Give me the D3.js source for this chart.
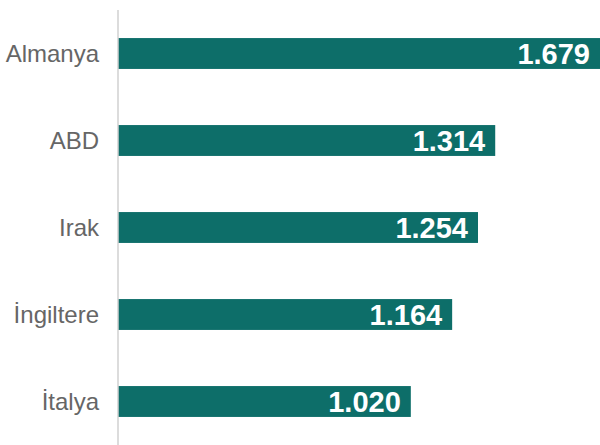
<!DOCTYPE html>
<html>
<head>
<meta charset="utf-8">
<script src="https://cdn.jsdelivr.net/npm/d3@7"></script>
<style>
  body { margin: 0; background: #fff; }
  svg { display: block; font-family: "Liberation Sans", Arial, Helvetica, sans-serif; }
</style>
</head>
<body>
<div id="chart"></div>
<script>
const countries = ['Almanya', 'ABD', 'Irak', 'İngiltere', 'İtalya'];
const values = [1679, 1314, 1254, 1164, 1020];

const width = 600, height = 445;
const margin = { top: 10, right: 0, bottom: 0, left: 118 };

const svg = d3.select('#chart')
    .append('svg')
    .attr('width', width)
    .attr('height', height);

const x = d3.scaleLinear()
    .domain([0, d3.max(values)])
    .range([margin.left, width - margin.right]);

// step ~87px, bar ~31px
const y = d3.scaleBand()
    .domain(countries)
    .range([margin.top, height - margin.bottom])
    .paddingInner(0.645)
    .paddingOuter(0.3225);

const data = countries.map((c, i) => ({ name: c, value: values[i] }));

// bars
svg.selectAll('rect.bar')
    .data(data)
    .join('rect')
    .attr('class', 'bar')
    .attr('x', x(0))
    .attr('y', d => y(d.name))
    .attr('width', d => x(d.value) - x(0))
    .attr('height', y.bandwidth())
    .attr('fill', '#0d6e69');

// axis line
svg.append('line')
    .attr('x1', x(0)).attr('x2', x(0))
    .attr('y1', margin.top).attr('y2', height)
    .attr('stroke', '#d0d0d0')
    .attr('stroke-width', 1.5);

// category labels
svg.selectAll('text.cat')
    .data(data)
    .join('text')
    .attr('class', 'cat')
    .attr('x', x(0) - 19)
    .attr('y', d => y(d.name) + y.bandwidth() / 2)
    .attr('dy', '0.35em')
    .attr('text-anchor', 'end')
    .attr('fill', '#666')
    .style('font-size', '24px')
    .text(d => d.name);

// value labels
const fmt = v => d3.format(',')(v).replace(',', '.');
svg.selectAll('text.val')
    .data(data)
    .join('text')
    .attr('class', 'val')
    .attr('x', d => x(d.value) - 10)
    .attr('y', d => y(d.name) + y.bandwidth() / 2)
    .attr('dy', '0.36em')
    .attr('text-anchor', 'end')
    .attr('fill', '#fff')
    .style('font-size', '29px')
    .style('font-weight', 'bold')
    .text(d => fmt(d.value));
</script>
</body>
</html>
